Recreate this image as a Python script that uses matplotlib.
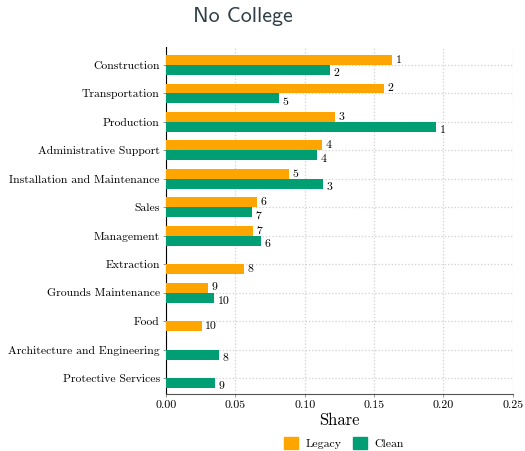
import numpy as np
import matplotlib
matplotlib.use("Agg")
import matplotlib.pyplot as plt
from matplotlib.patches import Patch

plt.rcParams['font.family'] = ['cmr10', 'DejaVu Serif']
plt.rcParams['axes.formatter.use_mathtext'] = True

# occupations, top to bottom
categories = ["Construction", "Transportation", "Production", "Administrative Support",
              "Installation and Maintenance", "Sales", "Management", "Extraction",
              "Grounds Maintenance", "Food", "Architecture and Engineering",
              "Protective Services"]

# share of workers, nan where the occupation is not in the top ten
legacy = [0.163, 0.157, 0.1216, 0.1127, 0.0889, 0.0653, 0.0629, 0.0559, 0.0306, 0.0258,
          np.nan, np.nan]
clean = [0.1185, 0.0817, 0.195, 0.109, 0.113, 0.0621, 0.0682, np.nan, 0.0349, np.nan,
         0.0383, 0.0354]

legacy_rank = [1, 2, 3, 4, 5, 6, 7, 8, 9, 10, None, None]
clean_rank = [2, 5, 1, 4, 3, 7, 6, None, 10, None, 8, 9]

orange = "#FFA500"
green = "#009E73"

fig = plt.figure(figsize=(5.25, 4.51), dpi=100)
ax = fig.add_axes([0.3162, 0.1264, 0.6604, 0.7694])

h = 0.35
y = np.arange(len(categories))
for i in y:
    both = not np.isnan(legacy[i]) and not np.isnan(clean[i])
    if not np.isnan(legacy[i]):
        yl = i - h / 2 if both else i + h / 2
        ax.barh(yl, legacy[i], height=h, color=orange, zorder=3)
        ax.annotate(str(legacy_rank[i]), (legacy[i], yl), xytext=(2.5, 0),
                    textcoords="offset points", va="center", ha="left", fontsize=8.5)
    if not np.isnan(clean[i]):
        yc = i + h / 2
        ax.barh(yc, clean[i], height=h, color=green, zorder=3)
        ax.annotate(str(clean_rank[i]), (clean[i], yc), xytext=(2.5, -2.5),
                    textcoords="offset points", va="center", ha="left", fontsize=8.5)

ax.set_ylim(11.56, -0.633)
ax.set_xlim(0, 0.25)
ax.set_yticks(y)
ax.set_yticklabels(categories, fontsize=8.4)
ax.set_xticks(np.arange(0, 0.26, 0.05))
ax.set_xticklabels([f"{v:.2f}" for v in np.arange(0, 0.26, 0.05)], fontsize=8.6)
ax.set_xlabel("Share", fontsize=12, labelpad=2)

ax.grid(True, linestyle=":", color="#d0d0d0", linewidth=0.9, zorder=0)
for s in ["top", "right"]:
    ax.spines[s].set_visible(False)
ax.spines["left"].set_color("black")
ax.spines["bottom"].set_color("#555555")
ax.tick_params(axis="both", length=2.5, width=0.6, color="#888888", pad=2)

fig.text(0.463, 0.963, "No College", fontsize=15.8, family="cmss10",
         color="#2f3e46", ha="center", va="center")

handles = [Patch(color=orange, label="Legacy"), Patch(color=green, label="Clean")]
fig.legend(handles=handles, loc="center", bbox_to_anchor=(0.655, 0.018), ncol=2,
           frameon=False, fontsize=8.5, handlelength=1.2, handleheight=1.2,
           columnspacing=1.0, handletextpad=0.6)

fig.savefig("out.png", dpi=100)
